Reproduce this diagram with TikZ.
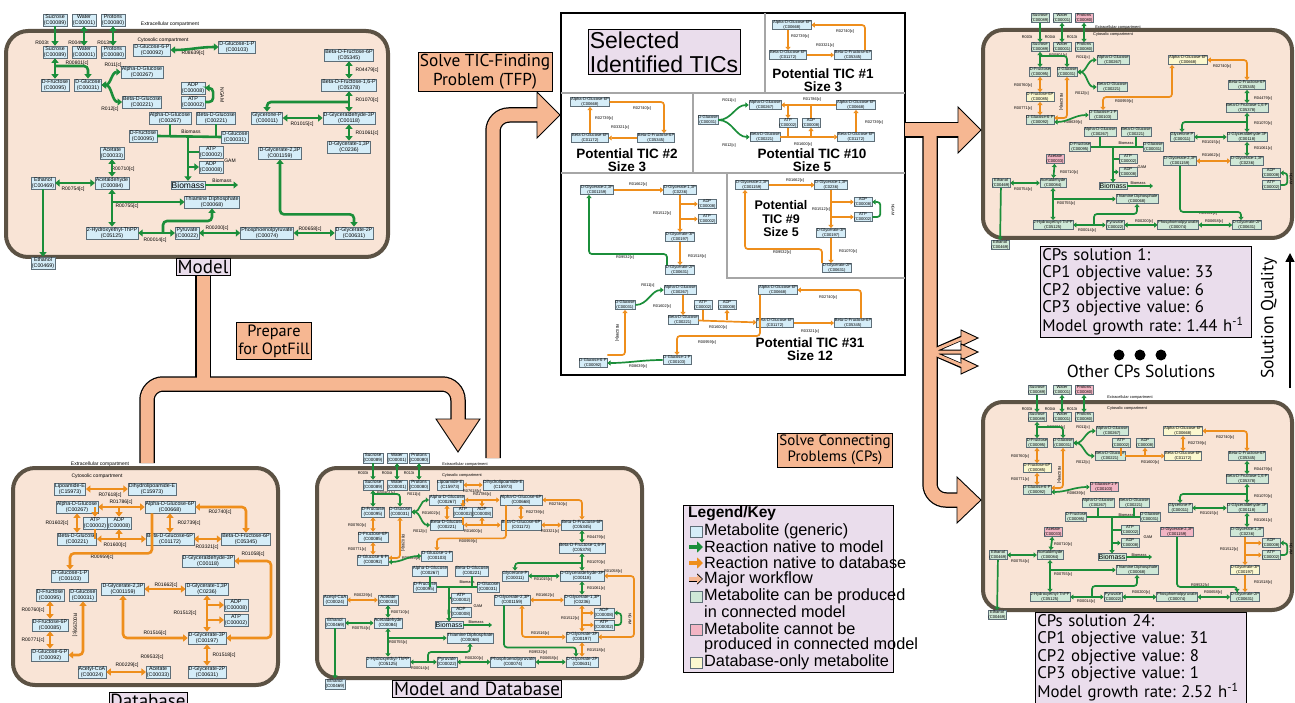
\documentclass[tikz,border=0pt]{standalone}
\usepackage{fontspec}
\setmainfont{Liberation Sans}
\newfontfamily\myr{PT Sans}
\frenchspacing
\usetikzlibrary{arrows.meta, positioning, calc}
\definecolor{metblue}{HTML}{D5EDF8}
\definecolor{metedge}{HTML}{5E6E78}
\definecolor{metgreen}{HTML}{CFE8D7}
\definecolor{metpink}{HTML}{F2B5C4}
\definecolor{metyellow}{HTML}{FBF8CF}
\definecolor{rxgreen}{HTML}{1B8E3A}
\definecolor{rxorange}{HTML}{EE8E1C}
\definecolor{panfill}{HTML}{F9E4D6}
\definecolor{panedge}{HTML}{5C5244}
\definecolor{lavend}{HTML}{EADDEC}
\definecolor{peach}{HTML}{F6B792}
\tikzset{
  met/.style = {draw=metedge, fill=metblue, align=center, line width=0.5pt, inner sep=0.8pt, font=\fontsize{5.3}{5.7}\selectfont},
  metm/.style = {met, inner sep=0.6pt, font=\fontsize{4.5}{4.9}\selectfont},
  mets/.style = {met, inner sep=0.5pt, font=\fontsize{4.1}{4.5}\selectfont},
  gfil/.style = {fill=metgreen},
  pfil/.style = {fill=metpink},
  yfil/.style = {fill=metyellow},
  bio/.style = {draw=metedge, fill=metblue, inner sep=0.8pt, font=\fontsize{8.5}{9}\selectfont},
  biom/.style = {bio, font=\fontsize{7}{7.5}\selectfont},
  rlab/.style = {inner sep=0.5pt, font=\fontsize{5}{5.4}\selectfont},
  rlabs/.style = {inner sep=0.3pt, font=\fontsize{3.9}{4.2}\selectfont},
  cmp/.style = {inner sep=0.5pt, font=\fontsize{5}{5.4}\selectfont},
  cmps/.style = {inner sep=0.3pt, font=\fontsize{3.9}{4.2}\selectfont},
  gr/.style = {draw=rxgreen, line width=2.6pt, rounded corners=4pt, >={Triangle[length=4.5pt,width=7pt]}},
  og/.style = {gr, draw=rxorange},
  grs/.style = {draw=rxgreen, line width=1.7pt, rounded corners=3pt, >={Triangle[length=3.2pt,width=5pt]}},
  ogs/.style = {grs, draw=rxorange},
  panel/.style = {draw=panedge, fill=panfill, line width=4pt, rounded corners=22pt},
  biglab/.style = {draw, fill=lavend, line width=0.6pt, inner sep=1.5pt, font=\myr\fontsize{19}{21}\selectfont},
  wfbox/.style = {draw, fill=peach, line width=0.8pt, align=center, inner sep=2pt, font=\myr\fontsize{15}{16}\selectfont},
  wfo/.style = {draw=black, line width=15.5pt, rounded corners=16pt},
  wff/.style = {draw=peach, line width=13pt, rounded corners=16pt},
  wfh/.style = {fill=peach, draw=black, line width=0.9pt},
  tdiv/.style = {draw=black!35, line width=1.5pt},
  ticlab/.style = {align=center, font=\bfseries\fontsize{13.5}{13}\selectfont},
  cpbox/.style = {draw, fill=lavend, line width=0.6pt, align=left, inner sep=2pt, text width=207pt, font=\myr\fontsize{16.8}{17.5}\selectfont},
  legtxt/.style = {anchor=west, inner sep=0pt, font=\fontsize{16.3}{17}\selectfont}
}
\begin{document}
\begin{tikzpicture}[x=1pt, y=-1pt, >={Triangle[length=4.5pt,width=7pt]}]
  \useasboundingbox (0,0) rectangle (1295,703);

  % ================= Model =================
  \draw[panel] (6,31) rectangle (388,257);
  \node[cmp] (m-ext) at (170,24) {Extracellular compartment};
  \node[cmp] (m-cyt) at (163,40) {Cytosolic compartment};
  \node[met] (m-sucO) at (55,20) {Sucrose\\(C00089)};
  \node[met] (m-watO) at (84,20) {Water\\(C00001)};
  \node[met] (m-proO) at (113,20) {Protons\\(C00080)};
  \node[met] (m-suc) at (55,52) {Sucrose\\(C00089)};
  \node[met] (m-wat) at (84,52) {Water\\(C00001)};
  \node[met] (m-pro) at (113,52) {Protons\\(C00080)};
  \node[met] (m-g6p) at (152,50) {D-Glucose-6-P\\(C00092)};
  \node[met] (m-g1p) at (237,47) {D-Glucose-1-P\\(C00103)};
  \node[met] (m-fru) at (55,85) {D-Fructose\\(C00095)};
  \node[met] (m-glc) at (88,85) {D-Glucose\\(C00031)};
  \node[met] (m-aglc) at (142,72) {Alpha-D-Glucose\\(C00267)};
  \node[met] (m-bglc) at (142,102) {Beta-D-Glucose\\(C00221)};
  \node[met] (m-adp) at (193,88) {ADP\\(C00008)};
  \node[met] (m-atp) at (193,102) {ATP\\(C00002)};
  \node[met] (m-f6p) at (349,55) {Beta-D-Fructose-6P\\(C05345)};
  \node[met] (m-fbp) at (349,85) {Beta-D-Fructose-1,6-P\\(C05378)};
  \node[met] (m-dhap) at (267,118) {Glycerone-P\\(C00011)};
  \node[met] (m-gap) at (349,118) {D-Glyceraldehyde-3P\\(C00118)};
  \node[met] (m-13pg) at (349,147) {D-Glycerate-1,3P\\(C0236)};
  \node[met] (m-23pg) at (280,153) {D-Glycerate-2,3P\\(C001159)};
  \node[met] (m-baglc) at (170,118) {Alpha-D-Glucose\\(C00267)};
  \node[met] (m-bbglc) at (216,118) {Beta-D-Glucose\\(C00221)};
  \node[met] (m-bfru) at (143,136) {D-Fructose\\(C00095)};
  \node[met] (m-bglc2) at (235,137) {D-Glucose\\(C00031)};
  \node[met] (m-batp) at (211,152) {ATP\\(C00002)};
  \node[met] (m-badp) at (211,167) {ADP\\(C00008)};
  \node[bio] (m-bio) at (188,185) {Biomass};
  \node[met] (m-ac) at (112,153) {Acetate\\(C00033)};
  \node[met] (m-acd) at (112,183) {Acetaldehyde\\(C00084)};
  \node[met] (m-eth) at (43,183) {Ethanol\\(C00469)};
  \node[met] (m-ethO) at (43,263) {Ethanol\\(C00469)};
  \node[met] (m-tpp) at (212,202) {Thiamine Diphosphate\\(C00068)};
  \node[met] (m-hthpp) at (112,233) {2-Hydroxyethyl-ThPP\\(C05125)};
  \node[met] (m-pyr) at (187,233) {Pyruvate\\(C00022)};
  \node[met] (m-pep) at (267,233) {Phosphoenolpyruvate\\(C00074)};
  \node[met] (m-2pg) at (354,233) {D-Glycerate-2P\\(C00631)};

  \node[rlab] (m-l1) at (42,43) {R003t};
  \node[rlab] (m-l2) at (75,43) {R004t};
  \node[rlab] (m-l3) at (104,43) {R013t};
  \node[rlab] (m-l4) at (193,53) {R08639[c]};
  \node[rlab] (m-l5) at (77,63) {R00801[c]};
  \node[rlab] (m-l6) at (113,65) {R011[c]};
  \node[rlab] (m-l7) at (110,109) {R012[c]};
  \node[rlab, rotate=-90] (m-l8) at (222,95) {NGAM};
  \node[rlab] (m-l9) at (367,70) {R04479[c]};
  \node[rlab] (m-l10) at (367,100) {R01070[c]};
  \node[rlab] (m-l11) at (302,124) {R01015[c]};
  \node[rlab] (m-l12) at (367,133) {R01061[c]};
  \node[rlab] (m-l13) at (191,132) {Biomass};
  \node[rlab] (m-l14) at (230,161) {GAM};
  \node[rlab] (m-l15) at (222,181) {Biomass};
  \node[rlab] (m-l16) at (123,169) {R00710[c]};
  \node[rlab] (m-l17) at (73,189) {R00754[c]};
  \node[rlab] (m-l18) at (127,206) {R00755[c]};
  \node[rlab] (m-l19) at (155,240) {R00014[c]};
  \node[rlab] (m-l20) at (217,228) {R00200[c]};
  \node[rlab] (m-l21) at (310,229) {R00658[c]};

  \draw[gr,->] (m-sucO) -- (m-suc);
  \draw[gr,<->] (m-watO) -- (m-wat);
  \draw[gr,<->] (m-proO) -- (m-pro);
  \draw[gr,<->] (m-suc) -- (m-fru);
  \coordinate (m-k1) at (55,66);
  \draw[gr,->] (m-k1) -| (m-glc.north);
  \draw[gr,<->] (m-g6p.east) to[out=0,in=180] (m-g1p.west);
  \draw[gr,<->] (m-glc.east) to[out=0,in=180] (m-aglc.west);
  \draw[gr,<->] (m-glc.east) to[out=0,in=180] (m-bglc.west);
  \draw[gr,->] (m-atp.east) -- ++(8,0) |- (m-adp.east);
  \draw[gr,<->] (m-f6p) -- (m-fbp);
  \draw[gr,<->] (m-fbp) -- (m-gap);
  \coordinate (m-k2) at (349,102);
  \draw[gr,->] (m-k2) -| (m-dhap.north);
  \draw[gr,<->] (m-dhap) -- (m-gap);
  \draw[gr,<->] (m-gap) -- (m-13pg);
  \coordinate (m-k3) at (188,136);
  \draw[gr] (m-bfru.east) -- (m-bglc2.west);
  \draw[gr] (m-baglc.south) -- (m-baglc.south |- m-k3);
  \draw[gr] (m-bbglc.south) -- (m-bbglc.south |- m-k3);
  \draw[gr,->] (m-k3) -- (m-bio.north);
  \draw[gr] (m-k3 |- m-batp) -- (m-batp.west);
  \draw[gr,->] (m-k3 |- m-badp) -- (m-badp.west);
  \coordinate (m-k4) at (238,185);
  \draw[gr,->] (m-bio.east) -- (m-k4);
  \draw[gr,<->] (m-ac) -- (m-acd);
  \draw[gr,<->] (m-eth) -- (m-acd);
  \draw[gr,->] (m-eth) -- (m-ethO);
  \draw[gr,<->] (m-acd) -- (m-hthpp);
  \coordinate (m-k5) at (112,202);
  \draw[gr,->] (m-k5) -- (m-tpp.west);
  \draw[gr,<->] (m-hthpp) -- (m-pyr);
  \coordinate (m-k6) at (163,233);
  \draw[gr,->] (m-k6) -- ++(0,-12) -| (m-tpp.south);
  \draw[gr,<->] (m-pyr) -- (m-pep);
  \draw[gr,<->] (m-pep) -- (m-2pg);
  \draw[gr,<->] (m-23pg.south) -- ++(0,55) -| (m-2pg.north);
  \node[biglab] (m-lab) at (203,267) {Model};

  % ================= Database =================
  \draw[panel] (13,468) rectangle (278,685);
  \node[cmp] (d-ext) at (100,464) {Extracellular compartment};
  \node[cmp] (d-cyt) at (97,476) {Cytosolic compartment};
  \node[met] (d-lip) at (70,489) {Lipoamide-E\\(C15973)};
  \node[met] (d-dlip) at (152,489) {Dihydrolipoamide-E\\(C15973)};
  \node[met] (d-aglc) at (77,507) {Alpha-D-Glucose\\(C00267)};
  \node[met] (d-ag6p) at (170,507) {Alpha-D-Glucose-6P\\(C00668)};
  \node[met] (d-atp) at (95,523) {ATP\\(C00002)};
  \node[met] (d-adp) at (119,523) {ADP\\(C00008)};
  \node[met] (d-bglc) at (77,539) {Beta-D-Glucose\\(C00221)};
  \node[met] (d-bg6p) at (170,539) {Beta-D-Glucose-6P\\(C01172)};
  \node[met] (d-f6p) at (246,539) {Beta-D-Fructose-6P\\(C05345)};
  \node[met] (d-gap) at (208,561) {D-Glyceraldehyde-3P\\(C00118)};
  \node[met] (d-g1p) at (70,576) {D-Glucose-1-P\\(C00103)};
  \node[met] (d-fru) at (50,595) {D-Fructose\\(C00095)};
  \node[met] (d-glc) at (83,595) {D-Glucose\\(C00031)};
  \node[met] (d-23pg) at (123,589) {D-Glycerate-2,3P\\(C001159)};
  \node[met] (d-13pg) at (207,589) {D-Glycerate-1,3P\\(C0236)};
  \node[met] (d-adp2) at (236,605) {ADP\\(C00008)};
  \node[met] (d-atp2) at (236,620) {ATP\\(C00002)};
  \node[met] (d-f6pb) at (50,625) {D-Fructose-6P\\(C00085)};
  \node[met] (d-3pg) at (207,638) {D-Glycerate-3P\\(C00197)};
  \node[met] (d-g6p) at (50,655) {D-Glucose-6-P\\(C00092)};
  \node[met] (d-accoa) at (92,672) {Acetyl-CoA\\(C00024)};
  \node[met] (d-ac) at (158,672) {Acetate\\(C00033)};
  \node[met] (d-2pg) at (207,672) {D-Glycerate-2P\\(C00631)};

  \node[rlab] (d-l1) at (110,495) {R07618[c]};
  \node[rlab] (d-l2) at (121,502) {R01786[c]};
  \node[rlab] (d-l3) at (220,512) {R02740[c]};
  \node[rlab] (d-l4) at (57,523) {R01602[c]};
  \node[rlab] (d-l5) at (189,523) {R02739[c]};
  \node[rlab] (d-l6) at (115,545) {R01600[c]};
  \node[rlab] (d-l7) at (207,547) {R03321[c]};
  \node[rlab] (d-l8) at (102,557) {R00959[c]};
  \node[rlab] (d-l9) at (253,554) {R01058[c]};
  \node[rlab] (d-l10) at (166,585) {R01662[c]};
  \node[rlab] (d-l11) at (33,610) {R00760[c]};
  \node[rlab, rotate=-90] (d-l12) at (75,625) {R00299[c]};
  \node[rlab] (d-l13) at (185,613) {R01512[c]};
  \node[rlab] (d-l14) at (155,633) {R01516[c]};
  \node[rlab] (d-l15) at (33,640) {R00771[c]};
  \node[rlab] (d-l16) at (152,657) {R09532[c]};
  \node[rlab] (d-l17) at (224,655) {R01518[c]};
  \node[rlab] (d-l18) at (127,665) {R00229[c]};

  \draw[og,<->] (d-lip) -- (d-dlip);
  \draw[og,<->] (d-aglc) -- (d-ag6p);
  \draw[og,->] (d-atp.north |- d-aglc) -- (d-atp.north);
  \draw[og,->] (d-adp.north |- d-aglc) -- (d-adp.north);
  \draw[og,<->] (d-aglc) -- (d-bglc);
  \draw[og,<->] (d-bglc) -- (d-bg6p);
  \draw[og] (d-atp.south) -- (d-atp.south |- d-bglc);
  \draw[og,<-] (d-adp.south) -- (d-adp.south |- d-bglc);
  \draw[og,<->] (d-ag6p) -- (d-bg6p);
  \draw[og,<->] (d-bg6p) -- (d-f6p);
  \draw[og,<->] (d-ag6p.east) -| (d-f6p.north);
  \draw[og,->] ([xshift=-18pt]d-ag6p.south) -- ++(0,40) -| (d-g1p.north);
  \coordinate (d-k1) at (271,561);
  \draw[og,<->] (d-gap.east) -- (d-k1) |- (d-3pg.east);
  \draw[og,<->] (d-23pg) -- (d-13pg);
  \draw[og,<->] (d-13pg) -- (d-3pg);
  \draw[og,->] (d-3pg.north |- d-adp2) -- (d-adp2.west);
  \draw[og,->] (d-3pg.north |- d-atp2) -- (d-atp2.west);
  \draw[og,<->] (d-23pg.south) |- (d-3pg.west);
  \draw[og,<->] (d-3pg) -- (d-2pg);
  \draw[og,<->] (d-fru) -- (d-f6pb);
  \draw[og,<->] (d-f6pb) -- (d-g6p);
  \draw[og,<->] (d-glc.south) |- (d-g6p.east);
  \draw[og,<->] (d-accoa) -- (d-ac);
  \node[biglab] (d-lab) at (148,701) {Database};

  % ================= Model and Database =================
  \draw[panel, rounded corners=20pt] (317,468) rectangle (642,678);
  \node[cmps] (md-ext) at (465,464) {Extracellular compartment};
  \node[cmps] (md-cyt) at (462,475) {Cytosolic compartment};
  \node[metm] (md-sucO) at (373,458) {Sucrose\\(C00089)};
  \node[metm] (md-watO) at (397,458) {Water\\(C00001)};
  \node[metm] (md-proO) at (419,458) {Protons\\(C00080)};
  \node[metm] (md-suc) at (373,485) {Sucrose\\(C00089)};
  \node[metm] (md-wat) at (397,485) {Water\\(C00001)};
  \node[metm] (md-pro) at (419,485) {Protons\\(C00080)};
  \node[metm] (md-lip) at (450,485) {Lipoamide-E\\(C15973)};
  \node[metm] (md-dlip) at (503,485) {Dihydrolipoamide-E\\(C15973)};
  \node[metm] (md-aglc) at (447,500) {Alpha-D-Glucose\\(C00267)};
  \node[metm] (md-ag6p) at (521,500) {Alpha-D-Glucose-6P\\(C00668)};
  \node[metm] (md-fru) at (373,512) {D-Fructose\\(C00095)};
  \node[metm] (md-glc) at (400,512) {D-Glucose\\(C00031)};
  \node[metm] (md-atp) at (463,512) {ATP\\(C00002)};
  \node[metm] (md-adp) at (482,512) {ADP\\(C00008)};
  \node[metm] (md-bglc) at (447,525) {Beta-D-Glucose\\(C00221)};
  \node[metm] (md-bg6p) at (521,525) {Beta-D-Glucose-6P\\(C01172)};
  \node[metm] (md-f6p) at (582,525) {Beta-D-Fructose-6P\\(C05345)};
  \node[metm] (md-f6pb) at (373,537) {D-Fructose-6P\\(C00085)};
  \node[metm] (md-fbp) at (582,548) {Beta-D-Fructose-1,6-P\\(C05378)};
  \node[metm] (md-g6p) at (373,560) {D-Glucose-6-P\\(C00092)};
  \node[metm] (md-g1p) at (437,556) {D-Glucose-1-P\\(C00103)};
  \node[metm] (md-baglc) at (430,571) {Alpha-D-Glucose\\(C00267)};
  \node[metm] (md-bbglc) at (472,571) {Beta-D-Glucose\\(C00221)};
  \node[metm] (md-bfru) at (425,587) {D-Fructose\\(C00095)};
  \node[metm] (md-bglc2) at (488,587) {D-Glucose\\(C00031)};
  \node[metm] (md-batp) at (461,598) {ATP\\(C00002)};
  \node[metm] (md-badp) at (461,612) {ADP\\(C00008)};
  \node[biom] (md-bio) at (449,625) {Biomass};
  \node[metm] (md-dhap) at (515,576) {Glycerone-P\\(C00011)};
  \node[metm] (md-gap) at (582,576) {D-Glyceraldehyde-3P\\(C00118)};
  \node[metm] (md-23pg) at (512,600) {D-Glycerate-2,3P\\(C001159)};
  \node[metm] (md-13pg) at (582,600) {D-Glycerate-1,3P\\(C0236)};
  \node[metm] (md-accoa) at (335,600) {Acetyl-CoA\\(C00024)};
  \node[metm] (md-ac) at (388,600) {Acetate\\(C00033)};
  \node[metm] (md-adp2) at (604,613) {ADP\\(C00008)};
  \node[metm] (md-atp2) at (604,625) {ATP\\(C00002)};
  \node[metm] (md-eth) at (335,623) {Ethanol\\(C00469)};
  \node[metm] (md-acd) at (388,623) {Acetaldehyde\\(C00084)};
  \node[metm] (md-3pg) at (582,637) {D-Glycerate-3P\\(C00197)};
  \node[metm] (md-tpp) at (470,638) {Thiamine Diphosphate\\(C00068)};
  \node[metm] (md-hthpp) at (388,662) {2-Hydroxyethyl-ThPP\\(C05125)};
  \node[metm] (md-pyr) at (447,662) {Pyruvate\\(C00022)};
  \node[metm] (md-pep) at (513,662) {Phosphoenolpyruvate\\(C00074)};
  \node[metm] (md-2pg) at (582,662) {D-Glycerate-2P\\(C00631)};
  \node[metm] (md-ethO) at (335,684) {Ethanol\\(C00469)};

  \node[rlabs] (md-l1) at (363,473) {R003t};
  \node[rlabs] (md-l2) at (387,473) {R004t};
  \node[rlabs] (md-l3) at (409,473) {R013t};
  \node[rlabs] (md-l4) at (472,491) {R07618[c]};
  \node[rlabs] (md-l5) at (386,493) {R00801[c]};
  \node[rlabs] (md-l6) at (414,494) {R011[c]};
  \node[rlabs] (md-l7) at (482,494) {R01786[c]};
  \node[rlabs] (md-l8) at (558,504) {R02740[c]};
  \node[rlabs] (md-l9) at (431,513) {R01602[c]};
  \node[rlabs] (md-l10) at (535,512) {R02739[c]};
  \node[rlabs] (md-l11) at (473,531) {R01600[c]};
  \node[rlabs] (md-l12) at (550,531) {R03321[c]};
  \node[rlabs] (md-l13) at (420,531) {R012[c]};
  \node[rlabs] (md-l14) at (357,525) {R00760[c]};
  \node[rlabs] (md-l15) at (596,537) {R04479[c]};
  \node[rlabs] (md-l16) at (468,541) {R00959[c]};
  \node[rlabs] (md-l17) at (357,549) {R00771[c]};
  \node[rlabs, rotate=-90] (md-l18) at (403,543) {R00299[c]};
  \node[rlabs] (md-l19) at (411,558) {R08639[c]};
  \node[rlabs] (md-l20) at (596,562) {R01070[c]};
  \node[rlabs] (md-l21) at (467,582) {Biomass};
  \node[rlabs] (md-l22) at (478,606) {GAM};
  \node[rlabs] (md-l23) at (543,579) {R01015[c]};
  \node[rlabs] (md-l24) at (613,571) {R01058[c]};
  \node[rlabs] (md-l25) at (596,588) {R01061[c]};
  \node[rlabs] (md-l26) at (545,595) {R01662[c]};
  \node[rlabs] (md-l27) at (363,595) {R00229[c]};
  \node[rlabs] (md-l28) at (400,612) {R00710[c]};
  \node[rlabs] (md-l29) at (570,618) {R01512[c]};
  \node[rlabs, rotate=-90] (md-l30) at (630,619) {NGAM};
  \node[rlabs] (md-l31) at (361,628) {R00754[c]};
  \node[rlabs] (md-l32) at (476,622) {Biomass};
  \node[rlabs] (md-l33) at (540,633) {R01516[c]};
  \node[rlabs] (md-l34) at (398,642) {R00755[c]};
  \node[rlabs] (md-l35) at (538,652) {R09532[c]};
  \node[rlabs] (md-l36) at (596,650) {R01518[c]};
  \node[rlabs] (md-l37) at (420,668) {R00014[c]};
  \node[rlabs] (md-l38) at (474,658) {R00200[c]};
  \node[rlabs] (md-l39) at (549,658) {R00658[c]};

  \draw[grs,->] (md-sucO) -- (md-suc);
  \draw[grs,<->] (md-watO) -- (md-wat);
  \draw[grs,<->] (md-proO) -- (md-pro);
  \draw[grs,<->] (md-suc) -- (md-fru);
  \coordinate (md-k1) at (373,494);
  \draw[grs,->] (md-k1) -| (md-glc.north);
  \draw[grs,<->] (md-glc.east) to[out=0,in=180] (md-aglc.west);
  \draw[grs,<->] (md-glc.east) to[out=0,in=180] (md-bglc.west);
  \draw[ogs,<->] (md-lip) -- (md-dlip);
  \draw[ogs,<->] (md-aglc) -- (md-ag6p);
  \draw[ogs,->] (md-atp.north |- md-aglc) -- (md-atp.north);
  \draw[ogs,->] (md-adp.north |- md-aglc) -- (md-adp.north);
  \draw[ogs,<->] (md-aglc) -- (md-bglc);
  \draw[ogs,<->] (md-bglc) -- (md-bg6p);
  \draw[ogs] (md-atp.south) -- (md-atp.south |- md-bglc);
  \draw[ogs,<-] (md-adp.south) -- (md-adp.south |- md-bglc);
  \draw[ogs,<->] (md-ag6p) -- (md-bg6p);
  \draw[ogs,<->] (md-bg6p) -- (md-f6p);
  \draw[ogs,<->] (md-ag6p.east) -| (md-f6p.north);
  \draw[ogs,->] ([xshift=-15pt]md-ag6p.south) -- ++(0,33) -| (md-g1p.north);
  \draw[ogs,<->] (md-fru) -- (md-f6pb);
  \draw[ogs,<->] (md-f6pb) -- (md-g6p);
  \draw[ogs,<->] (md-glc.south) |- ([yshift=2pt]md-g6p.east);
  \draw[grs,<->] ([yshift=-2pt]md-g6p.east) to[out=0,in=180] (md-g1p.west);
  \draw[grs,<->] (md-f6p) -- (md-fbp);
  \draw[grs,<->] (md-fbp) -- (md-gap);
  \coordinate (md-k2) at (582,563);
  \draw[grs,->] (md-k2) -| (md-dhap.north);
  \draw[grs,<->] (md-dhap) -- (md-gap);
  \draw[grs,<->] (md-gap) -- (md-13pg);
  \coordinate (md-k3) at (449,587);
  \draw[grs] (md-bfru.east) -- (md-bglc2.west);
  \draw[grs] (md-baglc.south) -- (md-baglc.south |- md-k3);
  \draw[grs] (md-bbglc.south) -- (md-bbglc.south |- md-k3);
  \draw[grs,->] (md-k3) -- (md-bio.north);
  \draw[grs] (md-k3 |- md-batp) -- (md-batp.west);
  \draw[grs,->] (md-k3 |- md-badp) -- (md-badp.west);
  \coordinate (md-k4) at (492,625);
  \draw[grs,->] (md-bio.east) -- (md-k4);
  \draw[ogs,<->] (md-accoa) -- (md-ac);
  \draw[grs,<->] (md-ac) -- (md-acd);
  \draw[grs,<->] (md-eth) -- (md-acd);
  \draw[grs,->] (md-eth) -- (md-ethO);
  \draw[grs,<->] (md-acd) -- (md-hthpp);
  \coordinate (md-k5) at (388,638);
  \draw[grs,->] (md-k5) -- (md-tpp.west);
  \draw[grs,<->] (md-hthpp) -- (md-pyr);
  \coordinate (md-k6) at (428,662);
  \draw[grs,->] (md-k6) -- ++(0,-10) -| (md-tpp.south);
  \draw[grs,<->] (md-pyr) -- (md-pep);
  \draw[grs,<->] (md-pep) -- (md-2pg);
  \draw[grs,->] ([xshift=-8pt]md-23pg.south) -- ++(0,42) -| ([xshift=-6pt]md-2pg.north);
  \draw[ogs,<->] (md-23pg) -- (md-13pg);
  \draw[ogs,<->] (md-13pg) -- (md-3pg);
  \draw[ogs,->] (md-3pg.north |- md-adp2) -- (md-adp2.west);
  \draw[ogs,->] (md-3pg.north |- md-atp2) -- (md-atp2.west);
  \draw[grs,->] (md-atp2.east) -- ++(7,0) |- (md-adp2.east);
  \draw[ogs,<->] ([xshift=10pt]md-23pg.south) |- (md-3pg.west);
  \coordinate (md-k7) at (634,576);
  \draw[ogs,<->] (md-gap.east) -- (md-k7) |- (md-3pg.east);
  \draw[ogs,<->] (md-3pg) -- (md-2pg);
  \node[biglab] (md-lab) at (477,689) {Model and Database};

  % ================= Selected TICs =================
  \draw[line width=2.5pt] (561,13) rectangle (905,375);
  \draw[tdiv] (765,13) -- (765,93);
  \draw[tdiv] (561,93) -- (905,93);
  \draw[tdiv] (693,93) -- (693,173);
  \draw[tdiv] (561,173) -- (905,173);
  \draw[tdiv] (727,173) -- (727,278) -- (905,278);
  \node[draw, fill=lavend, line width=0.6pt, align=left, inner sep=2pt, font=\fontsize{23}{24}\selectfont] (st-lab) at (664,52) {Selected\\Identified TICs};

  % TIC #1
  \node[mets] (t1-ag6p) at (792,25) {Alpha-D-Glucose-6P\\(C00668)};
  \node[mets] (t1-bg6p) at (788,55) {Beta-D-Glucose-6P\\(C01172)};
  \node[mets] (t1-f6p) at (853,55) {Beta-D-Fructose-6P\\(C05345)};
  \node[rlabs] (t1-l1) at (845,31) {R02740[c]};
  \node[rlabs] (t1-l2) at (800,36) {R02739[c]};
  \node[rlabs] (t1-l3) at (825,45) {R03321[c]};
  \draw[ogs,->] (t1-bg6p.north |- t1-ag6p.south) -- (t1-bg6p.north);
  \draw[ogs,->] (t1-bg6p) -- (t1-f6p);
  \draw[ogs,->] ([xshift=12pt]t1-f6p.north) |- (t1-ag6p.east);
  \node[ticlab] (t1-lab) at (823,80) {Potential TIC \#1\\Size 3};

  % TIC #2
  \node[mets] (t2-ag6p) at (590,102) {Alpha-D-Glucose-6P\\(C00668)};
  \node[mets] (t2-bg6p) at (590,138) {Beta-D-Glucose-6P\\(C01172)};
  \node[mets] (t2-f6p) at (656,138) {Beta-D-Fructose-6P\\(C05345)};
  \node[rlabs] (t2-l1) at (642,108) {R02740[c]};
  \node[rlabs] (t2-l2) at (604,118) {R02739[c]};
  \node[rlabs] (t2-l3) at (620,127) {R03321[c]};
  \draw[ogs,->] (t2-ag6p.east) -| ([xshift=8pt]t2-f6p.north);
  \draw[ogs,->] (t2-f6p) -- (t2-bg6p);
  \draw[ogs,->] (t2-bg6p) -- (t2-ag6p);
  \node[ticlab] (t2-lab) at (627,160) {Potential TIC \#2\\Size 3};

  % TIC #10
  \node[mets] (t10-glc) at (708,120) {D-Glucose\\(C00031)};
  \node[mets] (t10-aglc) at (765,105) {Alpha-D-Glucose\\(C00267)};
  \node[mets] (t10-ag6p) at (856,105) {Alpha-D-Glucose-6P\\(C00668)};
  \node[mets] (t10-atp) at (788,123) {ATP\\(C00002)};
  \node[mets] (t10-adp) at (811,123) {ADP\\(C00008)};
  \node[mets] (t10-bglc) at (765,137) {Beta-D-Glucose\\(C00221)};
  \node[mets] (t10-bg6p) at (856,137) {Beta-D-Glucose-6P\\(C01172)};
  \node[rlabs] (t10-l1) at (729,100) {R011[c]};
  \node[rlabs] (t10-l2) at (812,99) {R01786[c]};
  \node[rlabs] (t10-l3) at (874,122) {R02739[c]};
  \node[rlabs] (t10-l4) at (803,144) {R01600[c]};
  \node[rlabs] (t10-l5) at (729,145) {R012[c]};
  \draw[grs,->] (t10-glc.east) to[out=0,in=180] (t10-aglc.west);
  \draw[grs,->] (t10-glc.east) to[out=0,in=180] (t10-bglc.west);
  \draw[ogs,->] (t10-ag6p) -- (t10-aglc);
  \draw[ogs,->] (t10-atp.north |- t10-aglc) -- (t10-atp.north);
  \draw[ogs] (t10-adp.north |- t10-aglc) -- (t10-adp.north);
  \draw[ogs,->] (t10-bglc) -- (t10-bg6p);
  \draw[ogs] (t10-atp.south) -- (t10-atp.south |- t10-bglc);
  \draw[ogs,<-] (t10-adp.south) -- (t10-adp.south |- t10-bglc);
  \draw[ogs,->] (t10-bg6p) -- (t10-ag6p);
  \node[ticlab] (t10-lab) at (812,160) {Potential TIC \#10\\Size 5};

  % TIC without title
  \node[mets] (tx-23pg) at (597,190) {D-Glycerate-2,3P\\(C001159)};
  \node[mets] (tx-13pg) at (680,190) {D-Glycerate-1,3P\\(C0236)};
  \node[mets] (tx-adp) at (707,204) {ADP\\(C00008)};
  \node[mets] (tx-atp) at (707,219) {ATP\\(C00002)};
  \node[mets] (tx-3pg) at (680,237) {D-Glycerate-3P\\(C00197)};
  \node[mets] (tx-2pg) at (680,270) {D-Glycerate-2P\\(C00631)};
  \node[rlabs] (tx-l1) at (638,184) {R01662[c]};
  \node[rlabs] (tx-l2) at (662,213) {R01512[c]};
  \node[rlabs] (tx-l3) at (697,256) {R01518[c]};
  \node[rlabs] (tx-l4) at (625,257) {R09532[c]};
  \draw[ogs,->] (tx-23pg) -- (tx-13pg);
  \draw[ogs,->] (tx-13pg) -- (tx-3pg);
  \draw[ogs,->] (tx-3pg.north |- tx-adp) -- (tx-adp.west);
  \draw[ogs,->] (tx-3pg.north |- tx-atp) -- (tx-atp.west);
  \draw[ogs,->] (tx-3pg) -- (tx-2pg);
  \draw[grs,->] ([xshift=-13pt]tx-2pg.north) -- ++(0,-11) -| ([xshift=-8pt]tx-23pg.south);

  % TIC #9
  \node[mets] (t9-23pg) at (752,185) {D-Glycerate-2,3P\\(C001159)};
  \node[mets] (t9-13pg) at (831,185) {D-Glycerate-1,3P\\(C0236)};
  \node[mets] (t9-adp) at (863,202) {ADP\\(C00008)};
  \node[mets] (t9-atp) at (863,217) {ATP\\(C00002)};
  \node[mets] (t9-3pg) at (831,233) {D-Glycerate-3P\\(C00197)};
  \node[mets] (t9-2pg) at (837,268) {D-Glycerate-2P\\(C00631)};
  \node[rlabs] (t9-l1) at (795,180) {R01662[c]};
  \node[rlabs] (t9-l2) at (821,209) {R01512[c]};
  \node[rlabs] (t9-l3) at (848,251) {R01070[c]};
  \node[rlabs] (t9-l4) at (782,252) {R09532[c]};
  \node[rlabs, rotate=-90] (t9-l5) at (893,210) {NGAM};
  \draw[ogs,->] (t9-23pg) -- (t9-13pg);
  \draw[ogs,->] (t9-13pg) -- (t9-3pg);
  \draw[ogs,->] (t9-3pg.north |- t9-adp) -- (t9-adp.west);
  \draw[ogs,->] (t9-3pg.north |- t9-atp) -- (t9-atp.west);
  \draw[grs,->] (t9-atp.east) -- ++(8,0) |- (t9-adp.east);
  \draw[ogs,->] (t9-3pg.south) -- (t9-3pg.south |- t9-2pg.north);
  \draw[ogs,->] ([xshift=-15pt]t9-2pg.north) -- ++(0,-14) -| ([xshift=-7pt]t9-23pg.south);
  \node[ticlab, font=\bfseries\fontsize{12.5}{13.5}\selectfont] (t9-lab) at (781,219) {Potential\\TIC \#9\\Size 5};

  % TIC #31
  \node[mets] (t31-aglc) at (680,290) {Alpha-D-Glucose\\(C00267)};
  \node[mets] (t31-glc) at (625,305) {D-Glucose\\(C00031)};
  \node[mets] (t31-bglc) at (683,320) {Beta-D-Glucose\\(C00221)};
  \node[mets] (t31-atp) at (703,305) {ATP\\(C00002)};
  \node[mets] (t31-adp) at (727,305) {ADP\\(C00008)};
  \node[mets] (t31-ag6p) at (778,290) {Alpha-D-Glucose-6P\\(C00668)};
  \node[mets] (t31-bg6p) at (775,323) {Beta-D-Glucose-6P\\(C01172)};
  \node[mets] (t31-f6p) at (853,323) {Beta-D-Fructose-6P\\(C05345)};
  \node[mets] (t31-g1p) at (677,360) {D-Glucose-1-P\\(C00103)};
  \node[mets] (t31-g6p) at (593,363) {D-Glucose-6-P\\(C00092)};
  \node[rlabs] (t31-l1) at (648,285) {R011[c]};
  \node[rlabs] (t31-l2) at (662,306) {R01602[c]};
  \node[rlabs] (t31-l3) at (718,327) {R01600[c]};
  \node[rlabs] (t31-l4) at (828,297) {R02740[c]};
  \node[rlabs] (t31-l5) at (810,331) {R03321[c]};
  \node[rlabs] (t31-l6) at (707,342) {R00959[c]};
  \node[rlabs, rotate=-90] (t31-l7) at (617,333) {R00299[c]};
  \node[rlabs] (t31-l8) at (638,366) {R08639[c]};
  \draw[grs,->] (t31-glc.east) to[out=0,in=180] (t31-aglc.west);
  \draw[ogs,->] (t31-aglc.south -| t31-bglc.north) -- (t31-bglc.north);
  \draw[ogs,->] (t31-bglc) -- (t31-bg6p);
  \draw[ogs] (t31-atp.south) -- (t31-atp.south |- t31-bglc);
  \draw[ogs,<-] (t31-adp.south) -- (t31-adp.south |- t31-bglc);
  \draw[ogs,->] (t31-bg6p) -- (t31-f6p);
  \draw[ogs,->] ([xshift=8pt]t31-f6p.north) |- (t31-ag6p.east);
  \draw[ogs,->] ([xshift=-18pt]t31-ag6p.south) -- ++(0,41) -| (t31-g1p.north);
  \draw[grs,->] (t31-g1p.west) to[out=180,in=0] (t31-g6p.east);
  \draw[ogs,->] ([yshift=3pt]t31-g6p.north east) -| (t31-glc.south);
  \node[ticlab] (t31-lab) at (810,349) {Potential TIC \#31\\Size 12};

  % ================= CPs solution 1 =================
  \draw[panel, rounded corners=20pt] (983,30) rectangle (1292,238);
  \node[cmps] (a-ext) at (1118,27) {Extracellular compartment};
  \node[cmps] (a-cyt) at (1113,34) {Cytosolic compartment};
  \node[mets, gfil] (a-sucO) at (1040,18) {Sucrose\\(C00089)};
  \node[mets, gfil] (a-watO) at (1062,18) {Water\\(C00001)};
  \node[mets, pfil] (a-proO) at (1084,18) {Protons\\(C00080)};
  \node[mets, gfil] (a-suc) at (1040,47) {Sucrose\\(C00089)};
  \node[mets, gfil] (a-wat) at (1062,47) {Water\\(C00001)};
  \node[mets, gfil] (a-pro) at (1084,47) {Protons\\(C00080)};
  \node[mets, gfil] (a-aglc) at (1113,60) {Alpha-D-Glucose\\(C00267)};
  \node[mets, yfil] (a-ag6p) at (1188,60) {Alpha-D-Glucose-6P\\(C00668)};
  \node[mets, gfil] (a-fru) at (1040,72) {D-Fructose\\(C00095)};
  \node[mets, gfil] (a-glc) at (1067,72) {D-Glucose\\(C00031)};
  \node[mets, gfil] (a-bglc) at (1112,87) {Beta-D-Glucose\\(C00221)};
  \node[mets, yfil] (a-f6pb) at (1040,97) {D-Fructose-6P\\(C00085)};
  \node[mets, gfil] (a-f6p) at (1247,85) {Beta-D-Fructose-6P\\(C05345)};
  \node[mets, gfil] (a-fbp) at (1247,108) {Beta-D-Fructose-1,6-P\\(C05378)};
  \node[mets, gfil] (a-g6p) at (1040,120) {D-Glucose-6-P\\(C00092)};
  \node[mets, gfil] (a-g1p) at (1103,115) {D-Glucose-1-P\\(C00103)};
  \node[mets, gfil] (a-baglc) at (1100,132) {Alpha-D-Glucose\\(C00267)};
  \node[mets, gfil] (a-bbglc) at (1136,132) {Beta-D-Glucose\\(C00221)};
  \node[mets, gfil] (a-bfru) at (1080,147) {D-Fructose\\(C00095)};
  \node[mets, gfil] (a-bglc2) at (1153,147) {D-Glucose\\(C00031)};
  \node[mets, gfil] (a-dhap) at (1182,137) {Glycerone-P\\(C00011)};
  \node[mets, gfil] (a-gap) at (1247,137) {D-Glyceraldehyde-3P\\(C00118)};
  \node[mets, pfil] (a-ac) at (1055,159) {Acetate\\(C00033)};
  \node[mets, gfil] (a-batp) at (1128,159) {ATP\\(C00002)};
  \node[mets, gfil] (a-badp) at (1128,172) {ADP\\(C00008)};
  \node[mets, gfil] (a-23pg) at (1180,161) {D-Glycerate-2,3P\\(C001159)};
  \node[mets, gfil] (a-13pg) at (1247,161) {D-Glycerate-1,3P\\(C0236)};
  \node[mets, gfil] (a-adp2) at (1271,173) {ADP\\(C00008)};
  \node[mets, gfil] (a-atp2) at (1271,185) {ATP\\(C00002)};
  \node[mets, gfil] (a-eth) at (1001,183) {Ethanol\\(C00469)};
  \node[mets, gfil] (a-acd) at (1053,183) {Acetaldehyde\\(C00084)};
  \node[biom, gfil] (a-bio) at (1113,186) {Biomass};
  \node[mets, gfil] (a-tpp) at (1137,199) {Thiamine Diphosphate\\(C00068)};
  \node[mets, gfil] (a-hthpp) at (1053,225) {2-Hydroxyethyl-ThPP\\(C05125)};
  \node[mets, gfil] (a-pyr) at (1115,225) {Pyruvate\\(C00022)};
  \node[mets, gfil] (a-pep) at (1178,225) {Phosphoenolpyruvate\\(C00074)};
  \node[mets, gfil] (a-2pg) at (1247,225) {D-Glycerate-2P\\(C00631)};
  \node[mets, gfil] (a-ethO) at (1000,245) {Ethanol\\(C00469)};

  \node[rlabs] (a-l1) at (1027,37) {R003t};
  \node[rlabs] (a-l2) at (1050,37) {R004t};
  \node[rlabs] (a-l3) at (1072,37) {R013t};
  \node[rlabs] (a-l4) at (1058,55) {R00801[c]};
  \node[rlabs] (a-l5) at (1083,57) {R011[c]};
  \node[rlabs] (a-l6) at (1082,93) {R012[c]};
  \node[rlabs] (a-l7) at (1023,85) {R00760[c]};
  \node[rlabs] (a-l8) at (1023,108) {R00771[c]};
  \node[rlabs, rotate=-90] (a-l9) at (1061,102) {R00299[c]};
  \node[rlabs] (a-l10) at (1073,122) {R08639[c]};
  \node[rlabs] (a-l11) at (1124,101) {R00959[c]};
  \node[rlabs] (a-l12) at (1222,66) {R02740[c]};
  \node[rlabs] (a-l13) at (1263,98) {R04479[c]};
  \node[rlabs] (a-l14) at (1263,123) {R01070[c]};
  \node[rlabs] (a-l15) at (1211,142) {R01015[c]};
  \node[rlabs] (a-l16) at (1263,148) {R01061[c]};
  \node[rlabs] (a-l17) at (1211,155) {R01662[c]};
  \node[rlabs] (a-l18) at (1126,143) {Biomass};
  \node[rlabs] (a-l19) at (1142,167) {GAM};
  \node[rlabs] (a-l20) at (1069,172) {R00710[c]};
  \node[rlabs] (a-l21) at (1023,189) {R00754[c]};
  \node[rlabs] (a-l22) at (1138,183) {Biomass};
  \node[rlabs] (a-l23) at (1066,203) {R00755[c]};
  \node[rlabs] (a-l24) at (1208,213) {R09532[c]};
  \node[rlabs] (a-l25) at (1087,230) {R00014[c]};
  \node[rlabs] (a-l26) at (1144,221) {R00200[c]};
  \node[rlabs] (a-l27) at (1214,221) {R00658[c]};
  \node[rlabs, rotate=-90] (a-l28) at (1291,179) {NGAM};

  \draw[grs,->] (a-sucO) -- (a-suc);
  \draw[grs,<->] (a-watO) -- (a-wat);
  \draw[grs,<->] (a-proO) -- (a-pro);
  \draw[grs,<->] (a-suc) -- (a-fru);
  \coordinate (a-k1) at (1040,56);
  \draw[grs,->] (a-k1) -| (a-glc.north);
  \draw[grs,<->] (a-glc.east) to[out=0,in=180] (a-aglc.west);
  \draw[grs,<->] (a-glc.east) to[out=0,in=180] (a-bglc.west);
  \draw[ogs,<->] (a-fru) -- (a-f6pb);
  \draw[ogs,<->] (a-f6pb) -- (a-g6p);
  \draw[ogs,<->] (a-glc.south) |- ([yshift=2pt]a-g6p.east);
  \draw[grs,<->] ([yshift=-2pt]a-g6p.east) to[out=0,in=180] (a-g1p.west);
  \draw[ogs,<->] (a-g1p.north) -- ++(0,-13) -| ([xshift=-16pt]a-ag6p.south);
  \draw[ogs,<->] (a-ag6p.east) -| (a-f6p.north);
  \draw[grs,<->] (a-f6p) -- (a-fbp);
  \draw[grs,<->] (a-fbp) -- (a-gap);
  \coordinate (a-k2) at (1247,122);
  \draw[grs,->] (a-k2) -| (a-dhap.north);
  \draw[grs,<->] (a-dhap) -- (a-gap);
  \draw[grs,<->] (a-gap) -- (a-13pg);
  \draw[ogs,<->] (a-23pg) -- (a-13pg);
  \draw[grs,->] (a-atp2.east) -- ++(7,0) |- (a-adp2.east);
  \coordinate (a-k3) at (1113,147);
  \draw[grs] (a-bfru.east) -- (a-bglc2.west);
  \draw[grs] (a-baglc.south) -- (a-baglc.south |- a-k3);
  \draw[grs] (a-bbglc.south) -- (a-bbglc.south |- a-k3);
  \draw[grs,->] (a-k3) -- (a-bio.north);
  \draw[grs] (a-k3 |- a-batp) -- (a-batp.west);
  \draw[grs,->] (a-k3 |- a-badp) -- (a-badp.west);
  \coordinate (a-k4) at (1153,186);
  \draw[grs,->] (a-bio.east) -- (a-k4);
  \draw[grs,<->] (a-ac) -- (a-acd);
  \draw[grs,<->] (a-eth) -- (a-acd);
  \draw[grs,->] (a-eth) -- (a-ethO);
  \draw[grs,<->] (a-acd) -- (a-hthpp);
  \coordinate (a-k5) at (1053,199);
  \draw[grs,->] (a-k5) -- (a-tpp.west);
  \draw[grs,<->] (a-hthpp) -- (a-pyr);
  \coordinate (a-k6) at (1094,225);
  \draw[grs,->] (a-k6) -- ++(0,-11) -| (a-tpp.south);
  \draw[grs,<->] (a-pyr) -- (a-pep);
  \draw[grs,<->] (a-pep) -- (a-2pg);
  \draw[grs,->] (a-23pg.south) -- ++(0,46) -| ([xshift=-6pt]a-2pg.north);

  \node[cpbox, anchor=north west] (a-sol) at (1040,246) {CPs solution 1:\\CP1 objective value: 33\\CP2 objective value: 6\\CP3 objective value: 6\\Model growth rate: 1.44 h\textsuperscript{-1}};

  % ================= CPs solution 24 =================
  \draw[panel, rounded corners=20pt] (983,402) rectangle (1292,610);
  \node[cmps] (b-ext) at (1130,397) {Extracellular compartment};
  \node[cmps] (b-cyt) at (1127,408) {Cytosolic compartment};
  \node[mets, gfil] (b-sucO) at (1037,390) {Sucrose\\(C00089)};
  \node[mets, gfil] (b-watO) at (1062,390) {Water\\(C00001)};
  \node[mets, pfil] (b-proO) at (1084,390) {Protons\\(C00080)};
  \node[mets, gfil] (b-suc) at (1037,417) {Sucrose\\(C00089)};
  \node[mets, gfil] (b-wat) at (1062,417) {Water\\(C00001)};
  \node[mets, gfil] (b-pro) at (1084,417) {Protons\\(C00080)};
  \node[mets, gfil] (b-aglc) at (1112,431) {Alpha-D-Glucose\\(C00267)};
  \node[mets, yfil] (b-ag6p) at (1183,431) {Alpha-D-Glucose-6P\\(C00668)};
  \node[mets, gfil] (b-fru) at (1037,443) {D-Fructose\\(C00095)};
  \node[mets, gfil] (b-glc) at (1063,443) {D-Glucose\\(C00031)};
  \node[mets, gfil] (b-atp) at (1121,443) {ATP\\(C00002)};
  \node[mets, gfil] (b-adp) at (1145,443) {ADP\\(C00008)};
  \node[mets, gfil] (b-bglc) at (1110,456) {Beta-D-Glucose\\(C00221)};
  \node[mets, yfil] (b-bg6p) at (1183,456) {Beta-D-Glucose-6P\\(C01172)};
  \node[mets, gfil] (b-f6p) at (1247,456) {Beta-D-Fructose-6P\\(C05345)};
  \node[mets, yfil] (b-f6pb) at (1037,468) {D-Fructose-6P\\(C00085)};
  \node[mets, gfil] (b-fbp) at (1247,479) {Beta-D-Fructose-1,6-P\\(C05378)};
  \node[mets, gfil] (b-g6p) at (1037,490) {D-Glucose-6-P\\(C00092)};
  \node[mets, pfil] (b-g1p) at (1104,487) {D-Glucose-1-P\\(C00103)};
  \node[mets, gfil] (b-baglc) at (1098,503) {Alpha-D-Glucose\\(C00267)};
  \node[mets, gfil] (b-bbglc) at (1134,503) {Beta-D-Glucose\\(C00221)};
  \node[mets, gfil] (b-bfru) at (1076,517) {D-Fructose\\(C00095)};
  \node[mets, gfil] (b-bglc2) at (1150,517) {D-Glucose\\(C00031)};
  \node[mets, gfil] (b-dhap) at (1180,508) {Glycerone-P\\(C00011)};
  \node[mets, gfil] (b-gap) at (1247,508) {D-Glyceraldehyde-3P\\(C00118)};
  \node[mets, pfil] (b-ac) at (1053,532) {Acetate\\(C00033)};
  \node[mets, gfil] (b-batp) at (1130,530) {ATP\\(C00002)};
  \node[mets, gfil] (b-badp) at (1130,543) {ADP\\(C00008)};
  \node[mets, pfil] (b-23pg) at (1177,532) {D-Glycerate-2,3P\\(C001159)};
  \node[mets, gfil] (b-13pg) at (1247,532) {D-Glycerate-1,3P\\(C0236)};
  \node[mets, gfil] (b-adp2) at (1271,543) {ADP\\(C00008)};
  \node[mets, gfil] (b-atp2) at (1271,555) {ATP\\(C00002)};
  \node[mets, gfil] (b-eth) at (998,555) {Ethanol\\(C00469)};
  \node[mets, gfil] (b-acd) at (1050,555) {Acetaldehyde\\(C00084)};
  \node[biom, gfil] (b-bio) at (1112,557) {Biomass};
  \node[mets, yfil] (b-3pg) at (1245,570) {D-Glycerate-3P\\(C00197)};
  \node[mets, gfil] (b-tpp) at (1137,570) {Thiamine Diphosphate\\(C00068)};
  \node[mets, gfil] (b-hthpp) at (1050,597) {2-Hydroxyethyl-ThPP\\(C05125)};
  \node[mets, gfil] (b-pyr) at (1113,597) {Pyruvate\\(C00022)};
  \node[mets, gfil] (b-pep) at (1177,597) {Phosphoenolpyruvate\\(C00074)};
  \node[mets, gfil] (b-2pg) at (1245,597) {D-Glycerate-2P\\(C00631)};
  \node[mets, gfil] (b-ethO) at (997,615) {Ethanol\\(C00469)};

  \node[rlabs] (b-l1) at (1027,409) {R003t};
  \node[rlabs] (b-l2) at (1050,409) {R004t};
  \node[rlabs] (b-l3) at (1072,409) {R013t};
  \node[rlabs] (b-l4) at (1056,427) {R00801[c]};
  \node[rlabs] (b-l5) at (1083,427) {R011[c]};
  \node[rlabs] (b-l6) at (1083,462) {R012[c]};
  \node[rlabs] (b-l7) at (1020,456) {R00760[c]};
  \node[rlabs] (b-l8) at (1020,479) {R00771[c]};
  \node[rlabs, rotate=-90] (b-l9) at (1059,475) {R00299[c]};
  \node[rlabs] (b-l10) at (1076,493) {R08639[c]};
  \node[rlabs] (b-l11) at (1197,443) {R02739[c]};
  \node[rlabs] (b-l12) at (1225,437) {R02740[c]};
  \node[rlabs] (b-l13) at (1150,462) {R01600[c]};
  \node[rlabs] (b-l14) at (1263,469) {R04479[c]};
  \node[rlabs] (b-l15) at (1263,496) {R01070[c]};
  \node[rlabs] (b-l16) at (1209,513) {R01015[c]};
  \node[rlabs] (b-l17) at (1263,520) {R01061[c]};
  \node[rlabs] (b-l18) at (1126,515) {Biomass};
  \node[rlabs] (b-l19) at (1148,537) {GAM};
  \node[rlabs] (b-l20) at (1063,544) {R00710[c]};
  \node[rlabs] (b-l21) at (1020,561) {R00754[c]};
  \node[rlabs] (b-l22) at (1139,555) {Biomass};
  \node[rlabs] (b-l23) at (1229,549) {R01512[c]};
  \node[rlabs] (b-l24) at (1263,582) {R01518[c]};
  \node[rlabs] (b-l25) at (1063,574) {R00755[c]};
  \node[rlabs] (b-l26) at (1200,585) {R09532[c]};
  \node[rlabs] (b-l27) at (1086,601) {R00014[c]};
  \node[rlabs] (b-l28) at (1141,592) {R00200[c]};
  \node[rlabs] (b-l29) at (1213,592) {R00658[c]};
  \node[rlabs, rotate=-90] (b-l30) at (1291,549) {NGAM};

  \draw[grs,->] (b-sucO) -- (b-suc);
  \draw[grs,<->] (b-watO) -- (b-wat);
  \draw[grs,<->] (b-proO) -- (b-pro);
  \draw[grs,<->] (b-suc) -- (b-fru);
  \coordinate (b-k1) at (1037,427);
  \draw[grs,->] (b-k1) -| (b-glc.north);
  \draw[grs,<->] (b-glc.east) to[out=0,in=180] (b-aglc.west);
  \draw[grs,<->] (b-glc.east) to[out=0,in=180] (b-bglc.west);
  \draw[ogs,<->] (b-fru) -- (b-f6pb);
  \draw[ogs,<->] (b-f6pb) -- (b-g6p);
  \draw[ogs,<->] (b-glc.south) |- ([yshift=2pt]b-g6p.east);
  \draw[grs,<->] ([yshift=-2pt]b-g6p.east) to[out=0,in=180] (b-g1p.west);
  \draw[ogs,->] (b-bglc) -- (b-bg6p);
  \draw[ogs] (b-atp.south) -- (b-atp.south |- b-bglc);
  \draw[ogs,<-] (b-adp.south) -- (b-adp.south |- b-bglc);
  \draw[ogs,<->] (b-ag6p) -- (b-bg6p);
  \draw[ogs,<->] (b-ag6p.east) -| (b-f6p.north);
  \draw[grs,<->] (b-f6p) -- (b-fbp);
  \draw[grs,<->] (b-fbp) -- (b-gap);
  \coordinate (b-k2) at (1247,494);
  \draw[grs,->] (b-k2) -| (b-dhap.north);
  \draw[grs,<->] (b-dhap) -- (b-gap);
  \draw[grs,<->] (b-gap) -- (b-13pg);
  \draw[ogs,->] (b-13pg.south -| b-3pg.north) -- (b-3pg.north);
  \draw[ogs,->] (b-3pg.north |- b-adp2) -- (b-adp2.west);
  \draw[ogs,->] (b-3pg.north |- b-atp2) -- (b-atp2.west);
  \draw[grs,->] (b-atp2.east) -- ++(7,0) |- (b-adp2.east);
  \draw[ogs,->] (b-3pg) -- (b-2pg);
  \coordinate (b-k3) at (1112,517);
  \draw[grs] (b-bfru.east) -- (b-bglc2.west);
  \draw[grs] (b-baglc.south) -- (b-baglc.south |- b-k3);
  \draw[grs] (b-bbglc.south) -- (b-bbglc.south |- b-k3);
  \draw[grs,->] (b-k3) -- (b-bio.north);
  \draw[grs] (b-k3 |- b-batp) -- (b-batp.west);
  \draw[grs,->] (b-k3 |- b-badp) -- (b-badp.west);
  \coordinate (b-k4) at (1152,557);
  \draw[grs,->] (b-bio.east) -- (b-k4);
  \draw[grs,<->] (b-ac) -- (b-acd);
  \draw[grs,<->] (b-eth) -- (b-acd);
  \draw[grs,->] (b-eth) -- (b-ethO);
  \draw[grs,<->] (b-acd) -- (b-hthpp);
  \coordinate (b-k5) at (1050,570);
  \draw[grs,->] (b-k5) -- (b-tpp.west);
  \draw[grs,<->] (b-hthpp) -- (b-pyr);
  \coordinate (b-k6) at (1092,597);
  \draw[grs,->] (b-k6) -- ++(0,-11) -| (b-tpp.south);
  \draw[grs,<->] (b-pyr) -- (b-pep);
  \draw[grs,<->] (b-pep) -- (b-2pg);
  \draw[grs,->] (b-23pg.south) -- ++(0,50) -| ([xshift=-8pt]b-2pg.north);

  \node[cpbox, anchor=north west] (b-sol) at (1035,612) {CPs solution 24:\\CP1 objective value: 31\\CP2 objective value: 8\\CP3 objective value: 1\\Model growth rate: 2.52 h\textsuperscript{-1}};

  % other solutions and quality axis
  \fill (1119,355) circle (5.5);
  \fill (1140,355) circle (5.5);
  \fill (1161,355) circle (5.5);
  \node[font=\myr\fontsize{17.5}{18}\selectfont] (o-lab) at (1141,371) {Other CPs Solutions};
  \node[font=\myr\fontsize{17.5}{18}\selectfont, rotate=90] (q-lab) at (1269,318) {Solution Quality};
  \coordinate (q-a) at (1290,388);
  \coordinate (q-b) at (1290,253);
  \draw[line width=1.6pt, -{Triangle[length=9pt,width=9pt]}] (q-a) -- (q-b);

  % ================= Legend =================
  \draw[fill=lavend, line width=0.6pt] (683,505) rectangle (893,672);
  \node[legtxt, font=\bfseries\fontsize{15.5}{16}\selectfont] (lg-0) at (688,514) {Legend/Key};
  \node[legtxt] (lg-1) at (704,531) {Metabolite (generic)};
  \node[legtxt] (lg-2) at (704,547) {Reaction native to model};
  \node[legtxt] (lg-3) at (704,563) {Reaction native to database};
  \node[legtxt] (lg-4) at (704,579) {Major workflow};
  \node[legtxt] (lg-5) at (704,596) {Metabolite can be produced};
  \node[legtxt] (lg-6) at (704,612) {in connected model};
  \node[legtxt] (lg-7) at (704,629) {Metabolite cannot be};
  \node[legtxt] (lg-8) at (704,645) {produced in connected model};
  \node[legtxt] (lg-9) at (704,662) {Database-only metabolite};
  \draw[draw=metedge, fill=metblue] (690,526) rectangle (702,537);
  \draw[draw=metedge, fill=metgreen] (690,591) rectangle (702,602);
  \draw[draw=metedge, fill=metpink] (690,624) rectangle (702,635);
  \draw[draw=metedge, fill=metyellow] (690,657) rectangle (702,668);
  \coordinate (lg-a1) at (689,547);
  \coordinate (lg-a2) at (703,547);
  \draw[draw=rxgreen, line width=4pt, -{Triangle[length=6pt,width=11pt]}] (lg-a1) -- (lg-a2);
  \coordinate (lg-b1) at (689,563);
  \coordinate (lg-b2) at (703,563);
  \draw[draw=rxorange, line width=4pt, -{Triangle[length=6pt,width=11pt]}] (lg-b1) -- (lg-b2);
  \coordinate (lg-c1) at (689,579);
  \coordinate (lg-c2) at (703,579);
  \draw[draw=black, line width=5pt, -{Triangle[length=6pt,width=11pt]}] (lg-c1) -- (lg-c2);
  \draw[draw=peach, line width=3.4pt, -{Triangle[length=4.6pt,width=8.6pt]}] (lg-c1) -- ([xshift=-1.2pt]lg-c2);

  % ================= Workflow arrows =================
  \coordinate (w-d) at (147,463);
  \coordinate (w-c1) at (147,384);
  \coordinate (w-c2) at (458,384);
  \coordinate (w-h1) at (458,420);
  \coordinate (w-mb) at (203,384);
  \coordinate (w-u) at (493,458);
  \coordinate (w-u1) at (493,115);
  \coordinate (w-h2) at (538,115);
  \coordinate (w-t) at (905,130);
  \coordinate (w-h3) at (959,130);
  \coordinate (w-v) at (930,130);
  \coordinate (w-v1) at (930,500);
  \coordinate (w-h4) at (958,500);
  \coordinate (w-s0) at (930,352);
  \coordinate (w-s1) at (962,338);
  \coordinate (w-s2) at (962,352);
  \coordinate (w-s3) at (962,366);
  \draw[wfo] (m-lab.south) -- (w-mb);
  \draw[wfo] (w-d) -- (w-c1) -- (w-c2) -- (w-h1);
  \draw[wfo] (w-u) -- (w-u1) -- (w-h2);
  \draw[wfo] (w-t) -- (w-h3);
  \draw[wfo] (w-v) -- (w-v1) -- (w-h4);
  \draw[black, line width=5pt] (w-s0) -- (w-s1) (w-s0) -- (w-s2) (w-s0) -- (w-s3);
  \filldraw[wfh] (436,419) -- (480,419) -- (458,452) -- cycle;
  \filldraw[wfh] (537,92) -- (537,138) -- (560,115) -- cycle;
  \filldraw[wfh] (958,107) -- (958,153) -- (981,130) -- cycle;
  \filldraw[wfh] (957,477) -- (957,523) -- (981,500) -- cycle;
  \filldraw[wfh] (961,330) -- (961,346) -- (978,338) -- cycle;
  \filldraw[wfh] (961,344) -- (961,360) -- (978,352) -- cycle;
  \filldraw[wfh] (961,358) -- (961,374) -- (978,366) -- cycle;
  \draw[peach, line width=3pt] (w-s0) -- ([xshift=1pt]w-s1) (w-s0) -- ([xshift=1pt]w-s2) (w-s0) -- ([xshift=1pt]w-s3);
  \draw[wff] (m-lab.south) -- (w-mb);
  \draw[wff] (w-d) -- (w-c1) -- (w-c2) -- (w-h1);
  \draw[wff] (w-u) -- (w-u1) -- (w-h2);
  \draw[wff] (w-t) -- (w-h3);
  \draw[wff] (w-v) -- (w-v1) -- (w-h4);

  \node[wfbox, font=\myr\fontsize{17.3}{19}\selectfont] (w-tfp) at (485,72) {Solve TIC-Finding\\Problem (TFP)};
  \node[wfbox, font=\myr\fontsize{16.3}{18}\selectfont] (w-opt) at (274,341) {Prepare\\for OptFill};
  \node[wfbox] (w-cps) at (835,450) {Solve Connecting\\Problems (CPs)};
\end{tikzpicture}
\end{document}
